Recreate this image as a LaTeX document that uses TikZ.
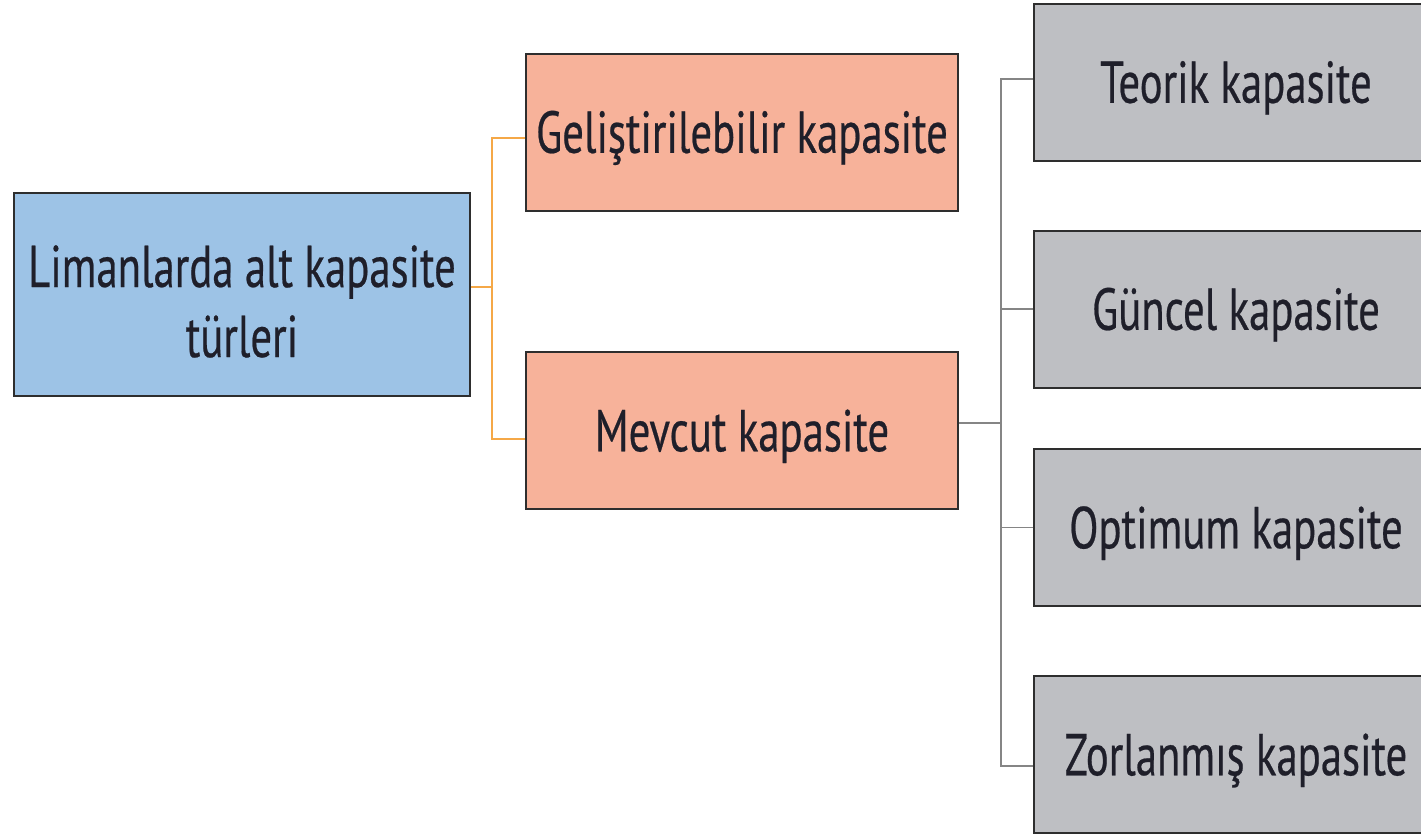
\documentclass[tikz,border=0pt]{standalone}
\usepackage{fontspec}
\setmainfont[FakeStretch=0.725, FakeBold=0.4]{PT Sans}
\usetikzlibrary{calc}

\definecolor{boxline}{HTML}{2E2E2E}
\definecolor{rootfill}{HTML}{9DC3E6}
\definecolor{midfill}{HTML}{F7B29A}
\definecolor{leaffill}{HTML}{BEBFC3}
\definecolor{orangeline}{HTML}{F5A847}
\definecolor{grayline}{HTML}{858585}
\definecolor{ink}{HTML}{1F1F2A}

\tikzset{
  box/.style={draw=boxline, line width=2pt, inner sep=0pt, align=center,
    text=ink, font=\fontsize{59}{70}\selectfont,
    text height=41.5pt, text depth=0pt},
  rootbox/.style={box, fill=rootfill, minimum width=456pt, minimum height=203pt,
    text height=125pt},
  midbox/.style={box, fill=midfill, minimum width=432pt, minimum height=157pt},
  leafbox/.style={box, fill=leaffill, minimum width=404pt, minimum height=157pt},
  oline/.style={draw=orangeline, line width=2pt},
  gline/.style={draw=grayline, line width=1.6pt},
}

\begin{document}
\begin{tikzpicture}[x=1pt, y=-1pt]
  \useasboundingbox[fill=white] (0,0) rectangle (1421,836);

  % root
  \node[rootbox] (root) at (242,294.5) {Limanlarda alt kapasite\\türleri};

  % second level
  \node[midbox] (dev) at (742,132) {Geliştirilebilir kapasite};
  \node[midbox] (cur) at (742,430.5) {Mevcut kapasite};

  % third level
  \node[leafbox] (t1) at (1236,82) {Teorik kapasite};
  \node[leafbox] (t2) at (1236,309) {Güncel kapasite};
  \node[leafbox] (t3) at (1236,527.5) {Optimum kapasite};
  \node[leafbox] (t4) at (1236,754.5) {Zorlanmış kapasite};

  % orange bracket
  \coordinate (ojoin) at (492,287);
  \draw[oline] ($(root.east)+(0,-7.5)$) -- (ojoin);
  \draw[oline] ($(dev.west)+(0,6)$) -| (ojoin) |- ($(cur.west)+(0,8.5)$);

  % gray bracket
  \coordinate (gjoin) at (1001,423);
  \draw[gline] ($(cur.east)+(0,-7.5)$) -- (gjoin);
  \draw[gline] ($(t1.west)+(0,-3)$) -| (gjoin) |- ($(t4.west)+(0,11.5)$);
  \draw[gline] (t2.west) -- (t2.west -| gjoin);
  \draw[gline] (t3.west) -- (t3.west -| gjoin);
\end{tikzpicture}
\end{document}
